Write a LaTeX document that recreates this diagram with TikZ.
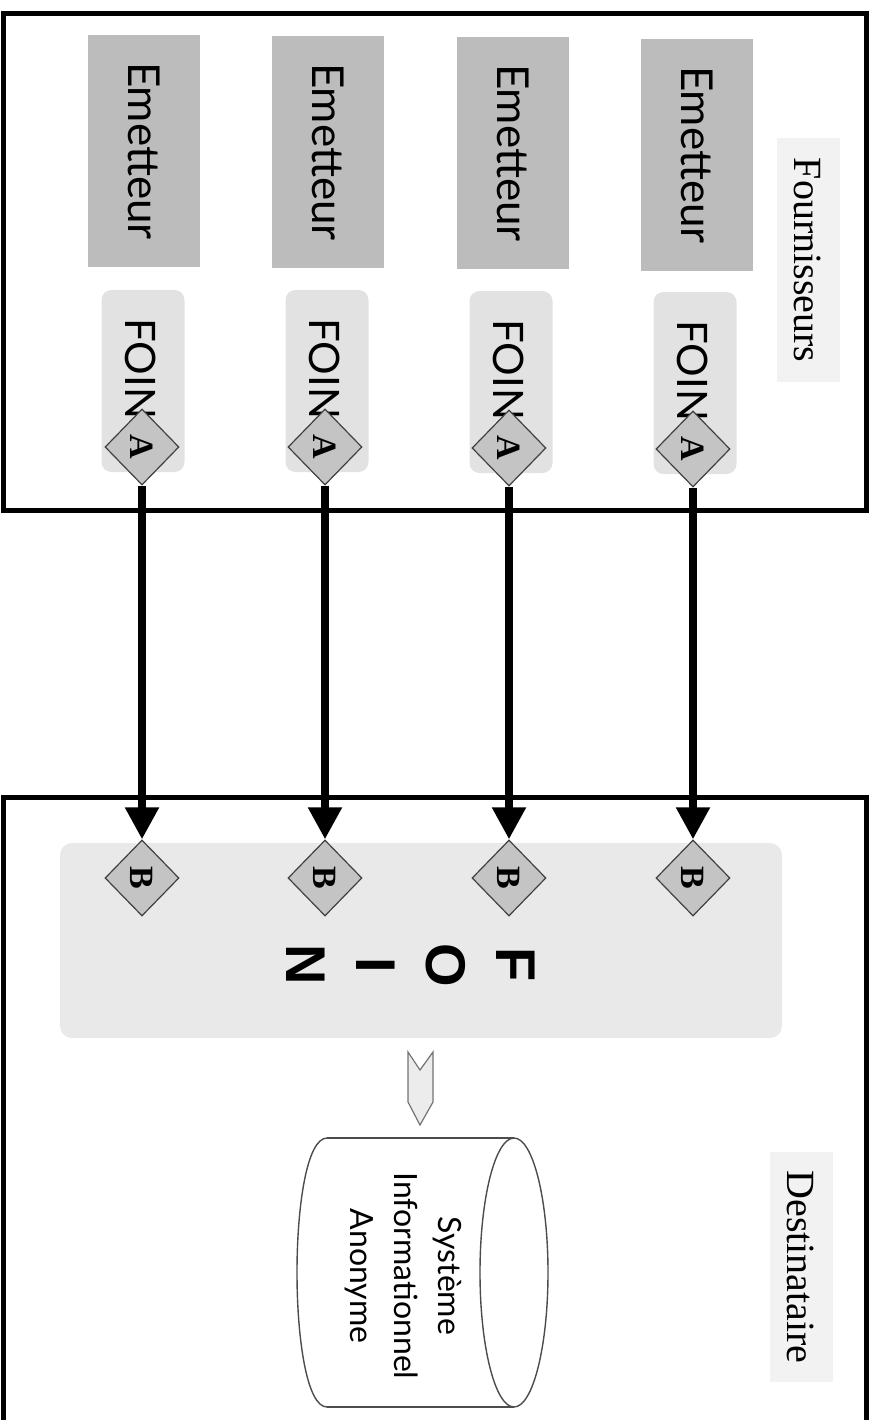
\documentclass[tikz,border=0pt]{standalone}
\usepackage{fontspec}
\setmainfont{Liberation Serif}
\newfontfamily\gsans{Lato}
\newfontfamily\bsans{Liberation Sans}
\usetikzlibrary{shapes.geometric,arrows.meta}
\definecolor{emfill}{HTML}{BCBCBC}
\definecolor{foinfill}{HTML}{E2E2E2}
\definecolor{panelfill}{HTML}{E9E9E9}
\definecolor{diafill}{HTML}{C4C4C4}
\definecolor{lblfill}{HTML}{F2F2F2}
\definecolor{chevfill}{HTML}{ECECEC}
\begin{document}
\begin{tikzpicture}[x=0.5pt,y=-0.5pt,
  frame/.style={line width=2.5pt},
  embox/.style={rotate=-90, fill=emfill, minimum width=116pt, minimum height=56pt, inner sep=0pt,
    font=\gsans\fontsize{22}{24}\selectfont},
  foinbox/.style={rotate=-90, fill=foinfill, rounded corners=5pt, minimum width=91pt, minimum height=41.5pt, inner sep=0pt},
  fointxt/.style={rotate=-90, anchor=west, inner sep=0pt, font=\gsans\fontsize{21}{24}\selectfont},
  dia/.style={diamond, draw=black!75, line width=0.6pt, fill=diafill, minimum width=37pt, minimum height=38pt, inner sep=0pt,
    font=\bfseries\fontsize{17}{18}\selectfont},
  flow/.style={line width=4pt, -{Triangle[width=16pt,length=16pt]}},
  panel/.style={fill=panelfill, rounded corners=6pt, minimum width=361pt, minimum height=97.5pt, inner sep=0pt},
  bigfoin/.style={rotate=-90, align=center, inner sep=0pt, font=\bsans\bfseries\fontsize{28}{35}\selectfont},
  lab/.style={rotate=-90, fill=lblfill, inner sep=0pt, font=\fontsize{20}{22}\selectfont},
  chev/.style={draw=black!55, line width=0.6pt, fill=chevfill},
  cyl/.style={draw=black!70, line width=0.7pt},
  cyltext/.style={rotate=-90, align=center, inner sep=0pt, font=\gsans\fontsize{16}{22}\selectfont}
]
\useasboundingbox (0,0) rectangle (880,1420);

% label boxes
\node[lab, minimum width=122pt, minimum height=31.5pt] (fourn) at (808,260) {Fournisseurs};
\node[lab, minimum width=115pt, minimum height=31.5pt] (dest) at (801,1267) {Destinataire};

% emitters
\node[embox] (e1) at (144,151) {Emetteur};
\node[embox] (e2) at (328,152) {Emetteur};
\node[embox] (e3) at (513,153) {Emetteur};
\node[embox] (e4) at (697,155) {Emetteur};

% FOIN boxes
\node[foinbox] (f1) at (143,381) {};
\node[foinbox] (f2) at (327,381) {};
\node[foinbox] (f3) at (511,382) {};
\node[foinbox] (f4) at (695,383) {};
\node[fointxt] (t1) at (141,318) {FOIN};
\node[fointxt] (t2) at (325,318) {FOIN};
\node[fointxt] (t3) at (509,319) {FOIN};
\node[fointxt] (t4) at (693,320) {FOIN};

% big panel
\node[panel] (pan) at (421,940.5) {};
\node[bigfoin] (letters) at (411,965) {F\\O\\I\\N};

% frames
\draw[frame] (3,13) rectangle (866,510);
\draw[frame] (3,1430) -- (3,797) -- (866,797) -- (866,1430);

% diamonds
\node[dia] (a1) at (142,447) {\rotatebox{-90}{A}};
\node[dia] (a2) at (325,447) {\rotatebox{-90}{A}};
\node[dia] (a3) at (509,448) {\rotatebox{-90}{A}};
\node[dia] (a4) at (693,449) {\rotatebox{-90}{A}};
\node[dia] (b1) at (142,878) {\rotatebox{-90}{B}};
\node[dia] (b2) at (325,878) {\rotatebox{-90}{B}};
\node[dia] (b3) at (509,878) {\rotatebox{-90}{B}};
\node[dia] (b4) at (693,878) {\rotatebox{-90}{B}};

% arrows
\draw[flow] (a1.south) -- (b1.north);
\draw[flow] (a2.south) -- (b2.north);
\draw[flow] (a3.south) -- (b3.north);
\draw[flow] (a4.south) -- (b4.north);

% chevron
\draw[chev] (408,1052) -- (420,1070) -- (433,1052) -- (433,1102) -- (420,1125) -- (408,1102) -- cycle;

% cylinder
\draw[cyl] (327,1138) -- (514,1138);
\draw[cyl] (327,1407) -- (514,1407);
\draw[cyl] (327,1138) .. controls (287,1138) and (287,1407) .. (327,1407);
\draw[cyl] (514,1272.5) ellipse [x radius=17pt, y radius=67.25pt];
\node[cyltext] (sia) at (403,1276) {Système\\Informationnel\\Anonyme};
\end{tikzpicture}
\end{document}
